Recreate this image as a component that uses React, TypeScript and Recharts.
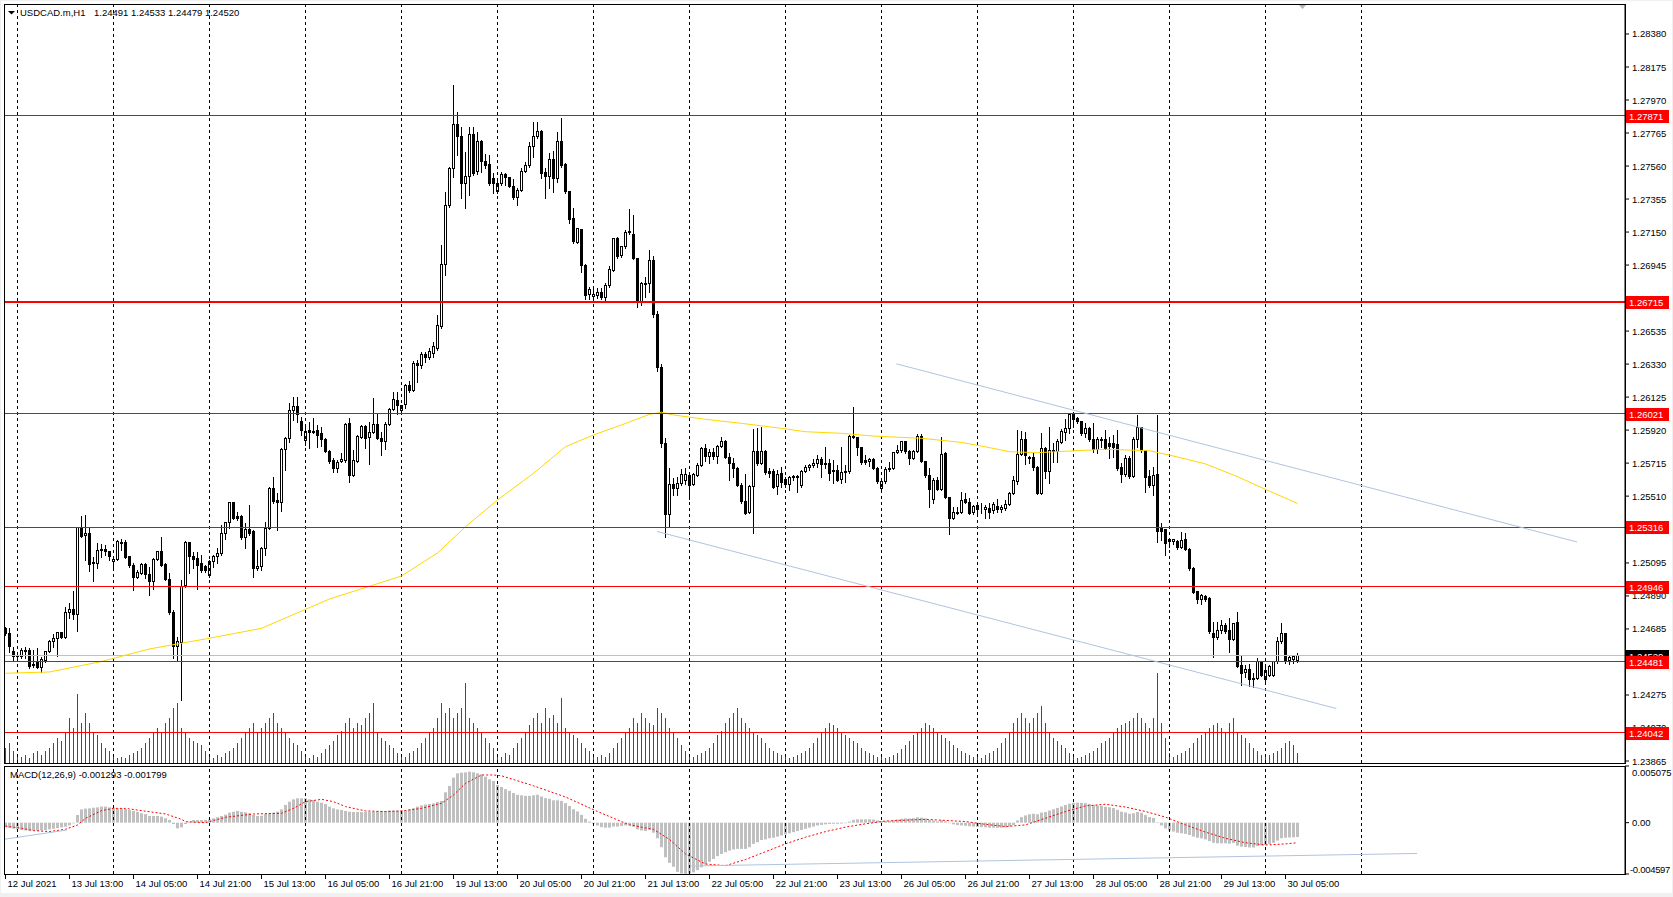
import React from 'react';
import { ComposedChart, Bar, Line, XAxis, YAxis, ReferenceLine, ReferenceDot } from 'recharts';

// ---------- DATA (H1 bars, index 0 = 12 Jul 21:00) ----------
const OPEN = [
  1.24689,1.24658,1.24544,1.24517,1.24517,1.24544,1.24554,1.24467,1.24476,1.24447,
  1.24488,1.24544,1.24606,1.24627,1.24664,1.24633,1.24788,1.24807,1.24776,1.25314,
  1.25264,1.25279,1.25093,1.25093,1.25171,1.25179,1.25165,1.25103,1.25117,1.25221,
  1.25221,1.25134,1.25082,1.25006,1.25031,1.25088,1.25026,1.24979,1.25117,1.25165,
  1.25086,1.24993,1.24788,1.24575,1.24604,1.24952,1.25221,1.25138,1.25124,1.25093,
  1.25072,1.25016,1.25103,1.25134,1.25155,1.25275,1.25345,1.25469,1.25382,1.25382,
  1.25254,1.25300,1.25289,1.25062,1.25076,1.25186,1.25310,1.25558,1.25482,1.25469,
  1.25802,1.25869,1.26041,1.26065,1.25972,1.25858,1.25916,1.25914,1.25920,1.25900,
  1.25862,1.25790,1.25734,1.25682,1.25724,1.25734,1.25962,1.25641,1.25724,1.25873,
  1.25941,1.25873,1.25906,1.25956,1.25869,1.25848,1.25956,1.26049,1.26101,1.26040,
  1.26076,1.26200,1.26167,1.26334,1.26324,1.26390,1.26370,1.26397,1.26428,1.26562,
  1.26949,1.27318,1.27545,1.27819,1.27742,1.27452,1.27494,1.27757,1.27525,1.27715,
  1.27587,1.27570,1.27483,1.27400,1.27452,1.27508,1.27487,1.27432,1.27363,1.27411,
  1.27525,1.27562,1.27680,1.27742,1.27777,1.27521,1.27494,1.27603,1.27483,1.27711,
  1.27570,1.27401,1.27235,1.27086,1.27163,1.26945,1.26763,1.26749,1.26755,1.26775,
  1.26742,1.26817,1.26914,1.27111,1.27003,1.27059,1.27156,1.27136,1.26987,1.26717,
  1.26825,1.26831,1.26976,1.26640,1.26310,1.25838,1.25393,1.25583,1.25558,1.25589,
  1.25604,1.25641,1.25583,1.25641,1.25703,1.25807,1.25755,1.25782,1.25755,1.25821,
  1.25850,1.25751,1.25713,1.25682,1.25579,1.25475,1.25407,1.25569,1.25790,1.25713,
  1.25790,1.25660,1.25660,1.25569,1.25651,1.25614,1.25583,1.25624,1.25631,1.25575,
  1.25666,1.25689,1.25699,1.25713,1.25738,1.25713,1.25713,1.25662,1.25672,1.25614,
  1.25655,1.25662,1.25883,1.25875,1.25813,1.25730,1.25724,1.25738,1.25682,1.25558,
  1.25600,1.25676,1.25680,1.25782,1.25792,1.25848,1.25790,1.25744,1.25790,1.25879,
  1.25724,1.25641,1.25490,1.25610,1.25552,1.25776,1.25502,1.25372,1.25403,1.25407,
  1.25486,1.25471,1.25407,1.25449,1.25434,1.25428,1.25434,1.25420,1.25444,1.25424,
  1.25434,1.25461,1.25527,1.25600,1.25769,1.25863,1.25751,1.25751,1.25689,1.25527,
  1.25807,1.25662,1.25786,1.25786,1.25844,1.25904,1.25931,1.26014,1.25993,1.25972,
  1.25900,1.25931,1.25863,1.25801,1.25863,1.25859,1.25834,1.25834,1.25832,1.25689,
  1.25647,1.25745,1.25631,1.25859,1.25937,1.25792,1.25631,1.25573,1.25647,1.25316,
  1.25300,1.25238,1.25227,1.25227,1.25192,1.25238,1.25180,1.25062,1.24917,1.24869,
  1.24886,1.24875,1.24654,1.24633,1.24674,1.24708,1.24674,1.24621,1.24724,1.24459,
  1.24414,1.24434,1.24378,1.24378,1.24482,1.24372,1.24399,1.24399,1.24482,1.24606,
  1.24654,1.24488,1.24497,1.24491,
];
const HIGH = [
  1.24699,1.24689,1.24575,1.24544,1.24565,1.24575,1.24565,1.24554,1.24565,1.24509,
  1.24550,1.24616,1.24654,1.24668,1.24668,1.24823,1.24848,1.24921,1.25320,1.25386,
  1.25393,1.25320,1.25134,1.25217,1.25213,1.25206,1.25170,1.25138,1.25237,1.25242,
  1.25237,1.25140,1.25097,1.25051,1.25097,1.25097,1.25072,1.25124,1.25171,1.25258,
  1.25093,1.25031,1.24803,1.24637,1.24989,1.25231,1.25227,1.25165,1.25165,1.25144,
  1.25082,1.25113,1.25144,1.25186,1.25331,1.25351,1.25475,1.25475,1.25413,1.25393,
  1.25341,1.25455,1.25300,1.25175,1.25196,1.25351,1.25569,1.25631,1.25527,1.25807,
  1.25875,1.26090,1.26128,1.26123,1.26003,1.25952,1.25972,1.25993,1.25952,1.25940,
  1.25869,1.25796,1.25745,1.25734,1.25776,1.25962,1.25993,1.25796,1.25889,1.25952,
  1.25952,1.25972,1.26117,1.26024,1.25910,1.25972,1.26059,1.26159,1.26159,1.26076,
  1.26204,1.26225,1.26349,1.26355,1.26407,1.26407,1.26428,1.26469,1.26635,1.27069,
  1.27396,1.27556,1.28063,1.27893,1.27804,1.27649,1.27804,1.27804,1.27773,1.27721,
  1.27632,1.27628,1.27514,1.27483,1.27525,1.27514,1.27494,1.27479,1.27421,1.27545,
  1.27587,1.27711,1.27835,1.27835,1.27783,1.27545,1.27639,1.27653,1.27769,1.27856,
  1.27576,1.27405,1.27301,1.27173,1.27169,1.26950,1.26811,1.26817,1.26800,1.26800,
  1.26831,1.26941,1.27115,1.27121,1.27065,1.27163,1.27291,1.27256,1.26991,1.26842,
  1.26873,1.27038,1.27000,1.26660,1.26330,1.25869,1.25682,1.25620,1.25626,1.25676,
  1.25686,1.25651,1.25655,1.25713,1.25813,1.25833,1.25800,1.25807,1.25827,1.25879,
  1.25858,1.25776,1.25744,1.25693,1.25589,1.25647,1.25579,1.25925,1.25931,1.25941,
  1.25796,1.25682,1.25678,1.25672,1.25693,1.25626,1.25635,1.25641,1.25641,1.25672,
  1.25703,1.25709,1.25738,1.25765,1.25751,1.25813,1.25738,1.25734,1.25703,1.25813,
  1.25703,1.25889,1.26065,1.25879,1.25817,1.25765,1.25744,1.25744,1.25689,1.25610,
  1.25689,1.25724,1.25786,1.25827,1.25854,1.25854,1.25796,1.25796,1.25896,1.25896,
  1.25730,1.25682,1.25620,1.25631,1.25879,1.25786,1.25506,1.25444,1.25444,1.25537,
  1.25531,1.25496,1.25455,1.25476,1.25465,1.25455,1.25465,1.25476,1.25490,1.25455,
  1.25486,1.25538,1.25635,1.25921,1.25916,1.25910,1.25759,1.25780,1.25695,1.25900,
  1.25813,1.25941,1.25838,1.25863,1.25925,1.25987,1.26024,1.26024,1.26003,1.25979,
  1.25962,1.25937,1.25962,1.25875,1.25875,1.25921,1.25879,1.25890,1.25921,1.25714,
  1.25765,1.25759,1.25879,1.26014,1.25941,1.25796,1.25672,1.25693,1.26014,1.25341,
  1.25304,1.25248,1.25242,1.25238,1.25289,1.25279,1.25186,1.25068,1.24923,1.24902,
  1.24896,1.24881,1.24730,1.24730,1.24741,1.24724,1.24751,1.24724,1.24792,1.24517,
  1.24461,1.24467,1.24410,1.24503,1.24488,1.24461,1.24461,1.24488,1.24637,1.24720,
  1.24658,1.24523,1.24523,1.24533,
];
const LOW = [
  1.24647,1.24544,1.24492,1.24496,1.24503,1.24503,1.24445,1.24451,1.24440,1.24420,
  1.24482,1.24540,1.24575,1.24517,1.24630,1.24630,1.24751,1.24745,1.24674,1.25255,
  1.25113,1.25047,1.24985,1.25062,1.25134,1.25144,1.25113,1.25072,1.25113,1.25175,
  1.25124,1.25072,1.24927,1.24999,1.25026,1.24999,1.24896,1.24931,1.25113,1.25078,
  1.24989,1.24780,1.24503,1.24492,1.24244,1.24947,1.25035,1.25062,1.24931,1.25040,
  1.25041,1.25010,1.25072,1.25097,1.25144,1.25242,1.25310,1.25366,1.25362,1.25242,
  1.25186,1.25268,1.25006,1.25051,1.25051,1.25144,1.25305,1.25469,1.25300,1.25418,
  1.25672,1.25848,1.25983,1.25972,1.25889,1.25827,1.25807,1.25900,1.25817,1.25820,
  1.25786,1.25713,1.25662,1.25662,1.25720,1.25724,1.25600,1.25636,1.25720,1.25869,
  1.25807,1.25707,1.25900,1.25865,1.25765,1.25802,1.25952,1.26045,1.26018,1.26018,
  1.26055,1.26159,1.26163,1.26216,1.26303,1.26345,1.26361,1.26376,1.26417,1.26555,
  1.26883,1.27307,1.27494,1.27628,1.27359,1.27297,1.27380,1.27504,1.27508,1.27525,
  1.27545,1.27445,1.27390,1.27390,1.27442,1.27442,1.27428,1.27358,1.27318,1.27405,
  1.27521,1.27556,1.27618,1.27732,1.27487,1.27363,1.27425,1.27396,1.27463,1.27556,
  1.27395,1.27204,1.27085,1.27080,1.26900,1.26734,1.26734,1.26734,1.26742,1.26734,
  1.26722,1.26811,1.26908,1.26991,1.26997,1.27053,1.27136,1.26982,1.26686,1.26697,
  1.26749,1.26780,1.26620,1.26290,1.25814,1.25258,1.25324,1.25517,1.25517,1.25579,
  1.25585,1.25490,1.25579,1.25635,1.25697,1.25730,1.25713,1.25738,1.25718,1.25813,
  1.25744,1.25610,1.25631,1.25574,1.25469,1.25399,1.25403,1.25283,1.25703,1.25709,
  1.25647,1.25631,1.25558,1.25523,1.25564,1.25569,1.25548,1.25610,1.25537,1.25569,
  1.25662,1.25672,1.25693,1.25693,1.25631,1.25682,1.25610,1.25593,1.25604,1.25593,
  1.25595,1.25651,1.25869,1.25765,1.25709,1.25709,1.25697,1.25678,1.25593,1.25552,
  1.25593,1.25668,1.25676,1.25776,1.25786,1.25780,1.25709,1.25738,1.25786,1.25720,
  1.25631,1.25444,1.25469,1.25545,1.25548,1.25496,1.25275,1.25366,1.25399,1.25403,
  1.25465,1.25399,1.25399,1.25403,1.25407,1.25372,1.25372,1.25407,1.25413,1.25413,
  1.25424,1.25455,1.25523,1.25585,1.25765,1.25709,1.25718,1.25672,1.25523,1.25523,
  1.25620,1.25594,1.25724,1.25724,1.25838,1.25859,1.25904,1.25937,1.25966,1.25890,
  1.25879,1.25854,1.25786,1.25776,1.25817,1.25801,1.25745,1.25755,1.25672,1.25600,
  1.25635,1.25620,1.25627,1.25817,1.25786,1.25538,1.25569,1.25517,1.25227,1.25237,
  1.25144,1.25196,1.25213,1.25180,1.25186,1.25175,1.25051,1.24906,1.24844,1.24840,
  1.24861,1.24662,1.24509,1.24621,1.24658,1.24662,1.24544,1.24617,1.24451,1.24337,
  1.24385,1.24331,1.24327,1.24372,1.24393,1.24347,1.24393,1.24393,1.24476,1.24596,
  1.24476,1.24467,1.24472,1.24479,
];
const CLOSE = [
  1.24658,1.24575,1.24517,1.24521,1.24554,1.24554,1.24451,1.24457,1.24447,1.24496,
  1.24544,1.24610,1.24627,1.24664,1.24633,1.24788,1.24807,1.24776,1.25314,1.25258,
  1.25279,1.25088,1.25097,1.25175,1.25181,1.25165,1.25134,1.25117,1.25227,1.25213,
  1.25128,1.25080,1.25006,1.25035,1.25088,1.25026,1.24979,1.25119,1.25165,1.25082,
  1.24993,1.24788,1.24575,1.24606,1.24947,1.25221,1.25134,1.25117,1.25080,1.25047,
  1.25051,1.25107,1.25134,1.25155,1.25275,1.25345,1.25469,1.25372,1.25372,1.25254,
  1.25300,1.25275,1.25062,1.25076,1.25186,1.25310,1.25558,1.25475,1.25469,1.25802,
  1.25869,1.26041,1.26065,1.26020,1.25916,1.25914,1.25908,1.25908,1.25889,1.25860,
  1.25790,1.25724,1.25682,1.25720,1.25740,1.25956,1.25641,1.25734,1.25879,1.25941,
  1.25869,1.25906,1.25956,1.25869,1.25852,1.25956,1.26051,1.26107,1.26072,1.26070,
  1.26196,1.26167,1.26334,1.26324,1.26390,1.26370,1.26407,1.26438,1.26568,1.26949,
  1.27314,1.27545,1.27819,1.27742,1.27452,1.27494,1.27757,1.27514,1.27711,1.27587,
  1.27566,1.27452,1.27452,1.27452,1.27508,1.27487,1.27432,1.27363,1.27411,1.27525,
  1.27562,1.27680,1.27742,1.27777,1.27514,1.27494,1.27603,1.27483,1.27711,1.27562,
  1.27401,1.27231,1.27090,1.27169,1.26941,1.26759,1.26794,1.26763,1.26775,1.26742,
  1.26817,1.26920,1.27111,1.26997,1.27059,1.27148,1.27148,1.26987,1.26717,1.26831,
  1.26831,1.26976,1.26640,1.26310,1.25838,1.25393,1.25583,1.25558,1.25589,1.25645,
  1.25645,1.25579,1.25645,1.25703,1.25807,1.25755,1.25782,1.25755,1.25821,1.25850,
  1.25751,1.25713,1.25682,1.25579,1.25475,1.25403,1.25569,1.25790,1.25713,1.25790,
  1.25655,1.25651,1.25564,1.25645,1.25593,1.25583,1.25626,1.25631,1.25626,1.25666,
  1.25689,1.25699,1.25713,1.25738,1.25709,1.25707,1.25651,1.25668,1.25610,1.25657,
  1.25662,1.25883,1.25875,1.25813,1.25718,1.25718,1.25738,1.25682,1.25600,1.25600,
  1.25678,1.25680,1.25782,1.25796,1.25848,1.25786,1.25744,1.25790,1.25879,1.25724,
  1.25641,1.25552,1.25610,1.25552,1.25769,1.25502,1.25372,1.25409,1.25409,1.25482,
  1.25469,1.25403,1.25444,1.25424,1.25434,1.25440,1.25407,1.25459,1.25428,1.25438,
  1.25461,1.25527,1.25604,1.25769,1.25863,1.25765,1.25741,1.25689,1.25527,1.25807,
  1.25662,1.25796,1.25796,1.25848,1.25910,1.25931,1.26014,1.25987,1.25972,1.25900,
  1.25931,1.25859,1.25801,1.25863,1.25854,1.25807,1.25817,1.25813,1.25683,1.25647,
  1.25741,1.25631,1.25863,1.25937,1.25792,1.25627,1.25573,1.25635,1.25289,1.25289,
  1.25213,1.25227,1.25238,1.25190,1.25233,1.25180,1.25062,1.24910,1.24865,1.24890,
  1.24871,1.24668,1.24633,1.24674,1.24708,1.24668,1.24621,1.24720,1.24455,1.24410,
  1.24434,1.24372,1.24372,1.24482,1.24399,1.24430,1.24451,1.24482,1.24606,1.24654,
  1.24488,1.24509,1.24513,1.24520,
];
// tick volume (relative units)
const VOLUME = [
  15,20,12,
  8,6,8,5,10,12,8,12,15,20,25,22,30,45,35,69,40,50,40,30,28,20,15,12,
  6,5,6,5,8,10,12,15,20,25,30,35,30,40,45,55,60,35,30,25,22,20,18,12,
  6,5,8,6,10,12,15,20,25,30,35,40,30,35,40,45,50,40,35,30,25,20,18,12,
  6,5,8,6,10,14,18,22,28,32,40,45,35,40,38,45,50,60,30,25,22,18,15,10,
  8,6,10,12,15,20,25,30,35,45,60,50,55,45,50,55,80,45,40,35,30,25,20,15,
  8,6,10,8,15,20,25,30,38,45,50,40,55,45,48,40,65,35,30,28,25,20,15,12,
  8,6,8,6,10,15,20,25,30,35,45,40,50,45,40,38,55,50,45,35,30,25,18,12,
  8,6,8,10,12,15,20,28,32,40,45,50,55,45,40,35,30,28,25,20,15,12,10,8,
  6,5,6,8,10,12,15,20,25,30,35,40,38,35,30,28,25,22,20,15,12,10,8,6,
  6,5,6,8,10,14,18,22,28,30,35,40,38,35,30,28,25,22,18,15,12,10,8,6,
  6,5,8,10,12,15,20,25,30,40,45,50,45,40,45,50,57,40,30,25,22,18,15,10,
  6,5,6,8,10,12,15,20,22,25,30,35,38,40,42,45,50,45,40,35,45,90,40,25,
  10,6,8,10,12,15,20,25,28,30,35,38,40,35,30,40,45,30,28,25,20,15,12,8,
  6,8,10,12,15,20,22,18,10,
];
// MACD main (histogram), in units of 0.00001
const MACD_UNIT = 0.00001;
const MACD_MAIN = [
  -42,-48,-54,-60,-66,-69,-72,-72,-72,-69,-66,-60,-54,-48,-42,-36,-24,-6,
  69,119,126,128,134,137,144,144,137,134,128,128,123,113,105,95,84,77,60,60,60,54,39,24,
  -12,-51,-42,-12,9,24,24,24,24,30,39,48,60,72,90,98,105,98,93,84,69,60,62,77,
  84,90,98,119,159,188,209,218,218,218,209,203,188,179,167,144,128,119,113,105,98,95,95,95,
  95,95,98,101,105,105,108,108,108,108,108,119,128,144,155,162,167,173,185,194,
  272,329,403,442,448,451,457,451,442,433,412,388,373,337,
  320,300,285,265,250,245,240,240,245,250,235,220,215,200,200,195,175,150,120,100,
  70,35,10,-10,-25,-40,-45,-45,-35,-35,-30,-25,-25,-35,-60,-70,-75,-65,-90,-140,
  -220,-310,-360,-395,-440,-455,-459,-455,-445,-425,-400,-375,-350,-325,-300,-280,-265,-250,-240,-235,
  -235,-235,-220,-190,-175,-155,-150,-140,-135,-125,-115,-105,-95,-85,-75,-65,-55,-45,-35,-25,
  -20,-15,-12,-10,-10,-8,-5,10,25,30,30,30,30,28,20,15,15,15,22,28,
  35,38,38,40,48,45,38,25,20,12,22,12,-5,-15,-22,-25,-28,-32,-35,-38,
  -40,-42,-45,-45,-45,-45,-42,-35,-22,20,50,65,75,80,75,90,95,108,120,132,
  145,158,170,178,180,178,175,168,158,155,150,142,138,132,115,98,92,80,85,95,
  88,68,50,42,5,-25,-52,-70,-80,-90,-95,-100,-110,-125,-135,-140,-150,-165,-180,-185,
  -185,-185,-188,-182,-205,-215,-218,-222,-222,-210,-205,-200,-190,-180,-160,-140,-135,-133,-131,-129,
];
// MACD signal read at these bars (units of 0.00001)
const SIGNAL_BARS = [0,4,7,11,15,18,20,24,27,30,34,40,44,45,50,55,62,69,72,75,79,82,85,90,95,99,104,109,112,115,119,122,124,132,140,148,156,162,166,170,175,180,185,190,195,200,205,210,215,220,230,240,245,250,255,260,265,270,275,280,285,290,295,300,305,310,315,320,323];
const SIGNAL_VALUES = [-30,-50,-71,-80,-59,-21,39,108,128,128,108,78,30,9,0,48,78,84,128,188,209,188,144,105,99,105,128,173,248,352,427,427,420,330,230,100,-20,-60,-150,-280,-370,-385,-330,-260,-190,-130,-80,-40,-10,15,30,10,-15,-35,-20,40,100,150,165,140,100,50,-20,-85,-140,-180,-200,-190,-180];
// Moving average read at these bars
const MA_BARS = [0,11,24,36,50,64,75,81,99,108,115,123,132,140,147,154,161,164,167,175,184,194,200,209,217,229,239,244,251,258,266,275,286,291,300,308,315,323];
const MA_VALUES = [1.24410,1.24418,1.24483,1.24561,1.24623,1.24689,1.24807,1.24871,1.25014,1.25157,1.25320,1.25486,1.25652,1.25817,1.25890,1.25952,1.26018,1.26031,1.26014,1.25987,1.25962,1.25931,1.25910,1.25900,1.25883,1.25869,1.25844,1.25821,1.25786,1.25780,1.25790,1.25801,1.25792,1.25765,1.25710,1.25631,1.25552,1.25465];

const LEVELS = [1.27871, 1.26715, 1.26021, 1.25316, 1.24946, 1.24481, 1.24042];
const LEVEL_WIDTHS = [1, 2, 1, 1, 1, 1, 1];
const BID = 1.2452;
const PRICE_TICKS = [1.28380,1.28175,1.27970,1.27765,1.27560,1.27355,1.27150,1.26945,1.26740,1.26535,1.26330,1.26125,1.25920,1.25715,1.25510,1.25305,1.25095,1.24890,1.24685,1.24480,1.24275,1.24070,1.23865];
const MACD_TICKS = [0.005075, 0, -0.004597];
const MACD_TICK_LABELS = ['0.005075', '0.00', '-0.004597'];
const TIME_TICK_BARS = [0,16,32,48,64,80,96,112,128,144,160,176,192,208,224,240,256,272,288,304,320];
const TIME_LABELS = ['12 Jul 2021','13 Jul 13:00','14 Jul 05:00','14 Jul 21:00','15 Jul 13:00','16 Jul 05:00','16 Jul 21:00','19 Jul 13:00','20 Jul 05:00','20 Jul 21:00','21 Jul 13:00','22 Jul 05:00','22 Jul 21:00','23 Jul 13:00','26 Jul 05:00','26 Jul 21:00','27 Jul 13:00','28 Jul 05:00','28 Jul 21:00','29 Jul 13:00','30 Jul 05:00'];
const DAY_START_BARS = [3,27,51,75,99,123,147,171,195,219,243,267,291,315,339];
const PRICE_TRENDS = [
  [[222.7, 1.263318], [392.9, 1.252251]],
  [[162.9, 1.252903], [332.7, 1.241911]],
];
const MACD_TRENDS = [
  [[-0.3, -0.001487], [15.4, -0.000654]],
  [[171.4, -0.003878], [352.9, -0.002758]],
];
const HEADER_SYMBOL = 'USDCAD.m,H1';
const HEADER_OHLC = '1.24491 1.24533 1.24479 1.24520';
const MACD_TITLE = 'MACD(12,26,9) -0.001293 -0.001799';

// ---------- LAYOUT ----------
const W = 1673;
const H = 897;
const FONT = '"Liberation Sans", Arial, sans-serif';
const FS = 9.5;
const X_DOMAIN: [number, number] = [-0.375, 404.875];
const PRICE_DOMAIN: [number, number] = [1.238526, 1.285663];
const MACD_DOMAIN: [number, number] = [-0.004597, 0.005075];
const VOL_DOMAIN: [number, number] = [0, 759];

const data = OPEN.map((o, i) => ({
  i,
  o,
  h: HIGH[i],
  l: LOW[i],
  c: CLOSE[i],
  range: [LOW[i], HIGH[i]],
  vol: VOLUME[i],
  macd: MACD_MAIN[i] * MACD_UNIT,
  sig: null as number | null,
  ma: null as number | null,
}));
SIGNAL_BARS.forEach((b, k) => { if (data[b]) data[b].sig = SIGNAL_VALUES[k] * MACD_UNIT; });
MA_BARS.forEach((b, k) => { if (data[b]) data[b].ma = MA_VALUES[k]; });

const crisp = (v: number) => Math.round(v - 0.5) + 0.5;

const Candle = (p: any) => {
  const { x, y, width, height, payload } = p;
  if (x == null || y == null || !payload) return null;
  const cx = crisp(x + width / 2);
  const hi = payload.h, lo = payload.l;
  const span = hi - lo;
  const py = (v: number) => (span > 0 ? y + ((hi - v) / span) * height : y);
  const bt = crisp(py(Math.max(payload.o, payload.c)));
  let bb = crisp(py(Math.min(payload.o, payload.c)));
  if (bb < bt) bb = bt;
  const bull = payload.c >= payload.o;
  return (
    <g>
      <line x1={cx} x2={cx} y1={Math.round(y)} y2={Math.round(y + height) + 1} stroke="#000" strokeWidth={1} />
      <rect x={cx - 1} y={bt} width={2} height={bb - bt} fill={bull ? '#fff' : '#000'} stroke="#000" strokeWidth={1} />
    </g>
  );
};

const VolBar = (p: any) => {
  const { x, y, width, height } = p;
  if (x == null || !height) return null;
  const cx = crisp(x + width / 2);
  return <line x1={cx} x2={cx} y1={y} y2={y + height} stroke="#008000" strokeWidth={1} />;
};

const HistBar = (p: any) => {
  const { x, y, width, height } = p;
  if (x == null || height == null) return null;
  const c = Math.round(x + width / 2 - 0.5);
  const top = Math.min(y, y + height);
  const h = Math.abs(height);
  return <rect x={c - 1} y={top} width={3} height={Math.max(h, 0.5)} fill="#C0C0C0" />;
};

const hLine = (color: string, w: number) => (p: any) => {
  const yy = w % 2 === 1 ? crisp(p.y1) : Math.round(p.y1);
  return <line x1={p.x1} x2={p.x2} y1={yy} y2={yy} stroke={color} strokeWidth={w} />;
};
const vDash = (p: any) => {
  const xx = crisp(p.x1);
  return <line x1={xx} x2={xx} y1={p.y1} y2={p.y2} stroke="#000" strokeWidth={1} strokeDasharray="3 3" />;
};

const makeTag = (label: string, bg: string) => (p: any) => {
  if (p.cx == null) return null;
  const x = Math.round(p.cx) + 1;
  const y = Math.round(p.cy);
  return (
    <g>
      <rect x={x} y={y - 6} width={43} height={13} fill={bg} />
      <text x={x + 3} y={y + 4} fill="#fff" fontSize={FS} fontFamily={FONT}>{label}</text>
    </g>
  );
};

const ShiftMark = (p: any) => {
  if (p.cx == null) return null;
  const x = Math.round(p.cx), y = Math.round(p.cy);
  return <polygon points={`${x - 3},${y + 1} ${x + 4},${y + 1} ${x + 0.5},${y + 5}`} fill="#B4B4B4" />;
};

const PriceTick = (p: any) => (
  <text x={p.x} y={p.y + 3.5} fontSize={FS} fontFamily={FONT} fill="#000">{Number(p.payload.value).toFixed(5)}</text>
);
const MacdTick = (p: any) => {
  const k = MACD_TICKS.indexOf(p.payload.value);
  const dy = k === 0 ? 6 : k === 2 ? -5 : 0;
  return (
    <text x={p.x - (k === 2 ? 2 : 0)} y={p.y + dy + 3.5} fontSize={FS} fontFamily={FONT} fill="#000" letterSpacing={k === 2 ? -0.3 : 0}>
      {MACD_TICK_LABELS[k]}
    </text>
  );
};
const TimeTick = (p: any) => {
  const k = TIME_TICK_BARS.indexOf(p.payload.value);
  const x = crisp(p.x);
  return (
    <g>
      <line x1={x} x2={x} y1={p.y} y2={p.y + 5} stroke="#000" strokeWidth={1} />
      <text x={x + 2} y={p.y + 13} fontSize={FS} fontFamily={FONT} fill="#000">{TIME_LABELS[k]}</text>
    </g>
  );
};

const layer: React.CSSProperties = { position: 'absolute', left: 0, top: 0 };

export default function App() {
  return (
    <div style={{ position: 'relative', width: W, height: H, background: '#F0F0F0', overflow: 'hidden', fontFamily: FONT }}>
      <style>{'html,body{margin:0;padding:0;background:#fff;}'}</style>
      <div style={{ position: 'absolute', left: 1, top: 1, width: 1671, height: 892, background: '#fff' }} />

      {/* volumes */}
      <div style={layer}>
        <ComposedChart width={W} height={767} data={data} margin={{ top: 4, right: 48, bottom: 4, left: 4 }}>
          <XAxis dataKey="i" type="number" domain={X_DOMAIN} allowDataOverflow hide />
          <YAxis yAxisId="v" domain={VOL_DOMAIN} allowDataOverflow hide />
          <Bar yAxisId="v" dataKey="vol" barSize={1} shape={VolBar} isAnimationActive={false} />
        </ComposedChart>
      </div>

      {/* main price panel */}
      <div style={layer}>
        <ComposedChart width={W} height={767} data={data} margin={{ top: 4, right: 0, bottom: 4, left: 4 }}>
          <XAxis dataKey="i" type="number" domain={X_DOMAIN} allowDataOverflow hide />
          <YAxis
            orientation="right"
            width={48}
            domain={PRICE_DOMAIN}
            allowDataOverflow
            ticks={PRICE_TICKS}
            interval={0}
            tickSize={4}
            tickMargin={3}
            tick={PriceTick}
            axisLine={{ stroke: '#000' }}
            tickLine={{ stroke: '#000' }}
          />
          {DAY_START_BARS.map((b) => (
            <ReferenceLine key={'g' + b} x={b} shape={vDash} ifOverflow="visible" />
          ))}
          <ReferenceLine y={BID} shape={hLine('#C0C0C0', 1)} />
          <Bar dataKey="range" barSize={3} shape={Candle} isAnimationActive={false} />
          <Line dataKey="ma" stroke="#FFD700" strokeWidth={1} dot={false} connectNulls isAnimationActive={false} />
          {LEVELS.map((lv, k) => (
            <ReferenceLine key={'l' + k} y={lv} shape={hLine('#FF0000', LEVEL_WIDTHS[k])} />
          ))}
          {PRICE_TRENDS.map((t, k) => (
            <ReferenceLine
              key={'t' + k}
              segment={[{ x: t[0][0], y: t[0][1] }, { x: t[1][0], y: t[1][1] }]}
              stroke="#B0C4DE"
              strokeWidth={1}
              ifOverflow="visible"
            />
          ))}
        </ComposedChart>
      </div>

      {/* price tags on the axis */}
      <div style={layer}>
        <ComposedChart width={W} height={767} data={data} margin={{ top: 4, right: 48, bottom: 4, left: 4 }}>
          <XAxis dataKey="i" type="number" domain={X_DOMAIN} allowDataOverflow hide />
          <YAxis domain={PRICE_DOMAIN} allowDataOverflow hide />
          <ReferenceDot x={X_DOMAIN[1]} y={BID} r={1} ifOverflow="visible" shape={makeTag(BID.toFixed(5), '#000')} />
          {LEVELS.map((lv, k) => (
            <ReferenceDot key={'d' + k} x={X_DOMAIN[1]} y={lv} r={1} ifOverflow="visible" shape={makeTag(lv.toFixed(5), '#FF0000')} />
          ))}
          <ReferenceDot x={OPEN.length} y={PRICE_DOMAIN[1]} r={1} ifOverflow="visible" shape={ShiftMark} />
        </ComposedChart>
      </div>

      {/* MACD panel + time axis */}
      <div style={layer}>
        <ComposedChart width={W} height={H} data={data} margin={{ top: 766, right: 0, bottom: 0, left: 4 }}>
          <XAxis
            dataKey="i"
            type="number"
            domain={X_DOMAIN}
            allowDataOverflow
            ticks={TIME_TICK_BARS}
            interval={0}
            height={23}
            tickSize={0}
            tickMargin={0}
            tickLine={false}
            axisLine={false}
            tick={TimeTick}
          />
          <YAxis
            orientation="right"
            width={48}
            domain={MACD_DOMAIN}
            allowDataOverflow
            ticks={MACD_TICKS}
            interval={0}
            tickSize={4}
            tickMargin={3}
            tick={MacdTick}
            axisLine={{ stroke: '#000' }}
            tickLine={{ stroke: '#000' }}
          />
          {DAY_START_BARS.map((b) => (
            <ReferenceLine key={'mg' + b} x={b} shape={vDash} ifOverflow="visible" />
          ))}
          <Bar dataKey="macd" barSize={3} shape={HistBar} isAnimationActive={false} />
          <Line dataKey="sig" stroke="#FF0000" strokeWidth={1} strokeDasharray="2 2" dot={false} connectNulls isAnimationActive={false} />
          {MACD_TRENDS.map((t, k) => (
            <ReferenceLine
              key={'mt' + k}
              segment={[{ x: t[0][0], y: t[0][1] }, { x: t[1][0], y: t[1][1] }]}
              stroke="#B0C4DE"
              strokeWidth={1}
              ifOverflow="visible"
            />
          ))}
        </ComposedChart>
      </div>

      {/* frames and titles */}
      <svg width={W} height={H} style={{ ...layer, pointerEvents: 'none' }}>
        <rect x={4.5} y={4.5} width={1621} height={759} fill="none" stroke="#000" strokeWidth={1} />
        <rect x={4.5} y={766.5} width={1621} height={108} fill="none" stroke="#000" strokeWidth={1} />
        <polygon points="8,11 15,11 11.5,14.5" fill="#000" />
        <text x={20} y={16} fontSize={FS} fontFamily={FONT} fill="#000">{HEADER_SYMBOL}</text>
        <text x={94} y={16} fontSize={FS} fontFamily={FONT} fill="#000">{HEADER_OHLC}</text>
        <text x={10} y={778} fontSize={FS} fontFamily={FONT} fill="#000">{MACD_TITLE}</text>
      </svg>
    </div>
  );
}
